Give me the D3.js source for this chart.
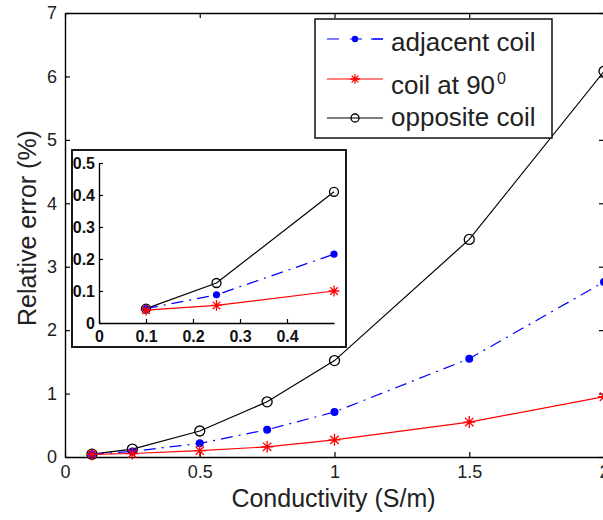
<!DOCTYPE html>
<html>
<head>
<meta charset="utf-8">
<script src="https://cdn.jsdelivr.net/npm/d3@7"></script>
<style>
  html, body { margin: 0; padding: 0; background: #fff; overflow: hidden; }
  svg { display: block; font-family: "Liberation Sans", Arial, sans-serif; }
</style>
</head>
<body>
<svg id="chart" width="603" height="520"></svg>
<script>
// ---- data ----
const conductivity = [0.1, 0.25, 0.5, 0.75, 1, 1.5, 2];
const adjacentCoil = [0.045, 0.088, 0.215, 0.43, 0.71, 1.55, 2.76];
const coilAt90     = [0.04, 0.055, 0.1, 0.16, 0.27, 0.55, 0.95];
const oppositeCoil = [0.045, 0.125, 0.41, 0.87, 1.52, 3.43, 6.08];
const xTicks = [0, 0.5, 1, 1.5, 2];
const yTicks = [0, 1, 2, 3, 4, 5, 6, 7];
const insetXTicks = [0, 0.1, 0.2, 0.3, 0.4];
const insetYTicks = [0, 0.1, 0.2, 0.3, 0.4, 0.5];
const seriesNames = ["adjacent coil", "coil at 90", "opposite coil"];

const svg = d3.select("#chart");

const series = [
  {name: seriesNames[0], values: adjacentCoil, color: "#0000ff", dash: "12,6,2,6", marker: "dot"},
  {name: seriesNames[1], values: coilAt90, color: "#ff0000", dash: null, marker: "star"},
  {name: seriesNames[2], values: oppositeCoil, color: "#000000", dash: null, marker: "circle"}
];
const drawOrder = [2, 0, 1];

function drawMarker(g, type, color, cx, cy, scale) {
  const s = scale || 1;
  if (type === "dot") {
    g.append("circle").attr("cx", cx).attr("cy", cy).attr("r", 4 * s)
      .attr("fill", color);
  } else if (type === "circle") {
    g.append("circle").attr("cx", cx).attr("cy", cy).attr("r", 5 * s)
      .attr("fill", "none").attr("stroke", color).attr("stroke-width", 1.3);
  } else if (type === "star") {
    const r = 6 * s, d = r * 0.7;
    g.append("path")
      .attr("d", `M${cx - r},${cy}L${cx + r},${cy}M${cx},${cy - r}L${cx},${cy + r}` +
                 `M${cx - d},${cy - d}L${cx + d},${cy + d}M${cx - d},${cy + d}L${cx + d},${cy - d}`)
      .attr("stroke", color).attr("stroke-width", 1.3).attr("fill", "none");
  }
}

// ---- main plot ----
const L = 65, R = 604, T = 13, B = 457;
const x = d3.scaleLinear().domain([0, 2]).range([L, R]);
const y = d3.scaleLinear().domain([0, 7]).range([B, T]);

const fmt = d => d3.format("")(d);

const xAxis = svg.append("g").attr("transform", `translate(0,${B})`)
  .call(d3.axisBottom(x).tickValues(xTicks).tickFormat(fmt).tickSizeInner(-5).tickSizeOuter(0).tickPadding(8));
const xAxisTop = svg.append("g").attr("transform", `translate(0,${T})`)
  .call(d3.axisTop(x).tickValues(xTicks).tickFormat("").tickSizeInner(-5).tickSizeOuter(0));
const yAxis = svg.append("g").attr("transform", `translate(${L},0)`)
  .call(d3.axisLeft(y).tickValues(yTicks).tickFormat(fmt).tickSizeInner(-5).tickSizeOuter(0).tickPadding(8));
const yAxisRight = svg.append("g").attr("transform", `translate(${R},0)`)
  .call(d3.axisRight(y).tickValues(yTicks).tickFormat("").tickSizeInner(-5).tickSizeOuter(0));

[xAxis, xAxisTop, yAxis, yAxisRight].forEach(a => {
  a.selectAll(".domain").attr("stroke", "#000").attr("stroke-width", 1.4);
  a.selectAll(".tick line").attr("stroke", "#000").attr("stroke-width", 1.2);
  a.selectAll("text").attr("font-size", 18).attr("fill", "#222")
    .attr("font-family", "'Liberation Sans', Arial, sans-serif");
});

// lines
const line = d3.line().x((d, i) => x(conductivity[i])).y(d => y(d));
drawOrder.forEach(k => {
  const s = series[k];
  svg.append("path").datum(s.values).attr("d", line)
    .attr("fill", "none").attr("stroke", s.color).attr("stroke-width", 1.2)
    .attr("stroke-dasharray", s.dash);
  const mg = svg.append("g");
  s.values.forEach((v, i) => drawMarker(mg, s.marker, s.color, x(conductivity[i]), y(v)));
});

// axis titles
svg.append("text").attr("x", (L + R) / 2 - 1).attr("y", 507)
  .attr("text-anchor", "middle").attr("font-size", 25).attr("fill", "#222")
  .text("Conductivity (S/m)");
svg.append("text").attr("transform", "translate(36,228) rotate(-90)")
  .attr("text-anchor", "middle").attr("font-size", 25).attr("fill", "#222")
  .text("Relative error (%)");

// ---- legend ----
const leg = svg.append("g");
leg.append("rect").attr("x", 315).attr("y", 19).attr("width", 237).attr("height", 119)
  .attr("fill", "#fff").attr("stroke", "#000").attr("stroke-width", 1.4);
const lineYs = [39, 79, 118];
const textYs = [51, 94, 126];
series.forEach((s, i) => {
  leg.append("line").attr("x1", 327).attr("x2", 383).attr("y1", lineYs[i]).attr("y2", lineYs[i])
    .attr("stroke", s.color).attr("stroke-width", 1.2)
    .attr("stroke-dasharray", s.dash ? "12,11,0,0" : null);
  if (s.dash) {
    leg.append("line").attr("x1", 371).attr("x2", 383).attr("y1", lineYs[i]).attr("y2", lineYs[i])
      .attr("stroke", s.color).attr("stroke-width", 1.2);
  }
  drawMarker(leg, s.marker, s.color, 355, lineYs[i], 0.8);
  const t = leg.append("text").attr("x", 391).attr("y", textYs[i])
    .attr("font-size", 26).attr("fill", "#222").text(s.name);
  if (i === 1) {
    t.append("tspan").attr("dx", 2).attr("dy", -10).attr("font-size", 16).text("0");
  }
});

// ---- inset ----
const ins = svg.append("g");
ins.append("rect").attr("x", 72).attr("y", 150).attr("width", 274).attr("height", 197)
  .attr("fill", "#fff").attr("stroke", "#000").attr("stroke-width", 1.8);
const xi = d3.scaleLinear().domain([0, 0.5]).range([99, 334]);
const yi = d3.scaleLinear().domain([0, 0.5]).range([323, 163]);
const ixa = ins.append("g").attr("transform", "translate(0,323)")
  .call(d3.axisBottom(xi).tickValues(insetXTicks).tickFormat(fmt).tickSizeInner(-4).tickSizeOuter(0).tickPadding(8));
const iya = ins.append("g").attr("transform", "translate(99,0)")
  .call(d3.axisLeft(yi).tickValues(insetYTicks).tickFormat(fmt).tickSizeInner(-4).tickSizeOuter(0).tickPadding(4));
[ixa, iya].forEach(a => {
  a.selectAll(".domain").attr("stroke", "#000").attr("stroke-width", 1.4);
  a.selectAll(".tick line").attr("stroke", "#000").attr("stroke-width", 1.2);
  a.selectAll("text").attr("font-size", 16).attr("font-weight", "bold").attr("fill", "#111")
    .attr("font-family", "'Liberation Sans', Arial, sans-serif");
});
const insetIdx = conductivity.map((c, i) => i).filter(i => conductivity[i] <= 0.5);
drawOrder.forEach(k => {
  const s = series[k];
  const l2 = d3.line().x(i => xi(conductivity[i])).y(i => yi(s.values[i]));
  ins.append("path").datum(insetIdx).attr("d", l2)
    .attr("fill", "none").attr("stroke", s.color).attr("stroke-width", 1.2)
    .attr("stroke-dasharray", s.dash);
  const mg = ins.append("g");
  insetIdx.forEach(i => drawMarker(mg, s.marker, s.color, xi(conductivity[i]), yi(s.values[i]), 0.9));
});
</script>
</body>
</html>
